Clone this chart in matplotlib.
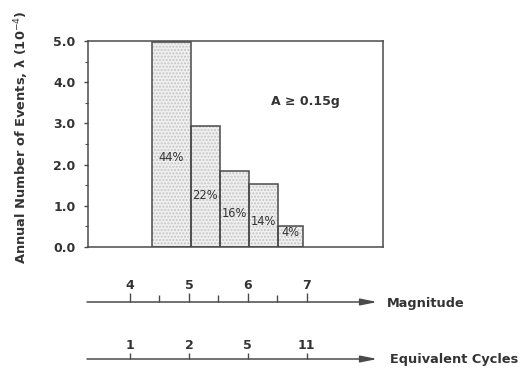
import matplotlib
matplotlib.use("Agg")
import matplotlib.pyplot as plt
import numpy as np

# bins in magnitude units, heights in 1e-4 events/yr
bin_lo = [4.37, 5.03, 5.52, 6.02, 6.51]
bin_hi = [5.03, 5.52, 6.02, 6.51, 6.94]
rate = [4.97, 2.94, 1.84, 1.53, 0.51]
pct = ["44%", "22%", "16%", "14%", "4%"]
pct_y = [2.18, 1.26, 0.82, 0.63, 0.36]

mag_ticks = [4, 5, 6, 7]
mag_minor = [4.5, 5.5, 6.5]
cycles = ["1", "2", "5", "11"]

txt = "#333333"
ink = "#4a4a4a"
plt.rcParams['font.family'] = ['DejaVu Sans']

fig = plt.figure(figsize=(5.27, 3.73), dpi=100)
W, H = 527, 373

def box(l, t, r, b):
    return [l / W, (H - b) / H, (r - l) / W, (b - t) / H]

xl = (3.287, 8.295)

# main histogram
ax = fig.add_axes(box(88, 41, 383, 247))
lo = np.array(bin_lo)
wd = np.array(bin_hi) - lo
ax.bar(lo, rate, width=wd, align='edge', facecolor='#f0f0f0',
       edgecolor='#c4c4c4', hatch='.....', linewidth=0)
ax.bar(lo, rate, width=wd, align='edge', fill=False,
       edgecolor=ink, linewidth=1.1)
for x0, w, s, y in zip(lo, wd, pct, pct_y):
    ax.text(x0 + w / 2, y, s, ha='center', va='center', fontsize=8.3, color=txt)
ax.text(6.97, 3.52, "A \u2265 0.15g", ha='center', va='center',
        fontsize=9, fontweight='bold', color=txt)
ax.set_xlim(*xl)
ax.set_ylim(0, 5.0)
ax.set_xticks([])
ax.set_yticks(np.arange(0, 5.01, 1.0))
ax.set_yticks(np.arange(0.5, 5.0, 1.0), minor=True)
ax.set_yticklabels(["%.1f" % v for v in np.arange(0, 5.01, 1.0)],
                   fontsize=9, fontweight='bold', color=txt)
ax.tick_params(axis='y', which='major', length=3, width=1, color=ink, pad=6)
ax.tick_params(axis='y', which='minor', length=2, width=0.8, color=ink)
for sp in ax.spines.values():
    sp.set_color(ink)
    sp.set_linewidth(1.1)

fig.text(22 / W, (H - 137) / H, "Annual Number of Events, \u03bb (10$^{-4}$)",
         rotation=90, ha='center', va='center', fontsize=9.4,
         fontweight='bold', color=txt)


def scale_axis(line_y, ticks, labels, minor, major_len, minor_len, name, name_x):
    # axes top edge sits on the drawn line, ticks point up
    a = fig.add_axes(box(88, line_y, 383, line_y + 10))
    a.set_xlim(*xl)
    a.set_ylim(0, 1)
    for sp in a.spines.values():
        sp.set_visible(False)
    a.set_yticks([])
    a.set_xticks(ticks)
    a.set_xticklabels(labels, fontsize=9, fontweight='bold', color=txt)
    if minor:
        a.set_xticks(minor, minor=True)
    a.tick_params(axis='x', which='both', top=True, labeltop=True,
                  bottom=False, labelbottom=False, direction='out',
                  color=ink, width=1)
    a.tick_params(axis='x', which='major', length=major_len, pad=0.5)
    a.tick_params(axis='x', which='minor', length=minor_len)
    a.annotate('', xy=(8.2, 1), xytext=(3.27, 1),
               xycoords=('data', 'axes fraction'),
               textcoords=('data', 'axes fraction'),
               arrowprops=dict(arrowstyle='-|>,head_length=1.0,head_width=0.2',
                               color=ink, lw=1.1, shrinkA=0, shrinkB=0),
               annotation_clip=False)
    fig.text(name_x / W, (H - line_y - 1) / H, name, ha='left', va='center',
             fontsize=9.3, fontweight='bold', color=txt)


scale_axis(302, mag_ticks, [str(m) for m in mag_ticks], mag_minor, 6.5, 5,
           "Magnitude", 387)
scale_axis(359, mag_ticks, cycles, None, 4.3, 0, "Equivalent Cycles", 390)

fig.savefig("out.png", dpi=100)
